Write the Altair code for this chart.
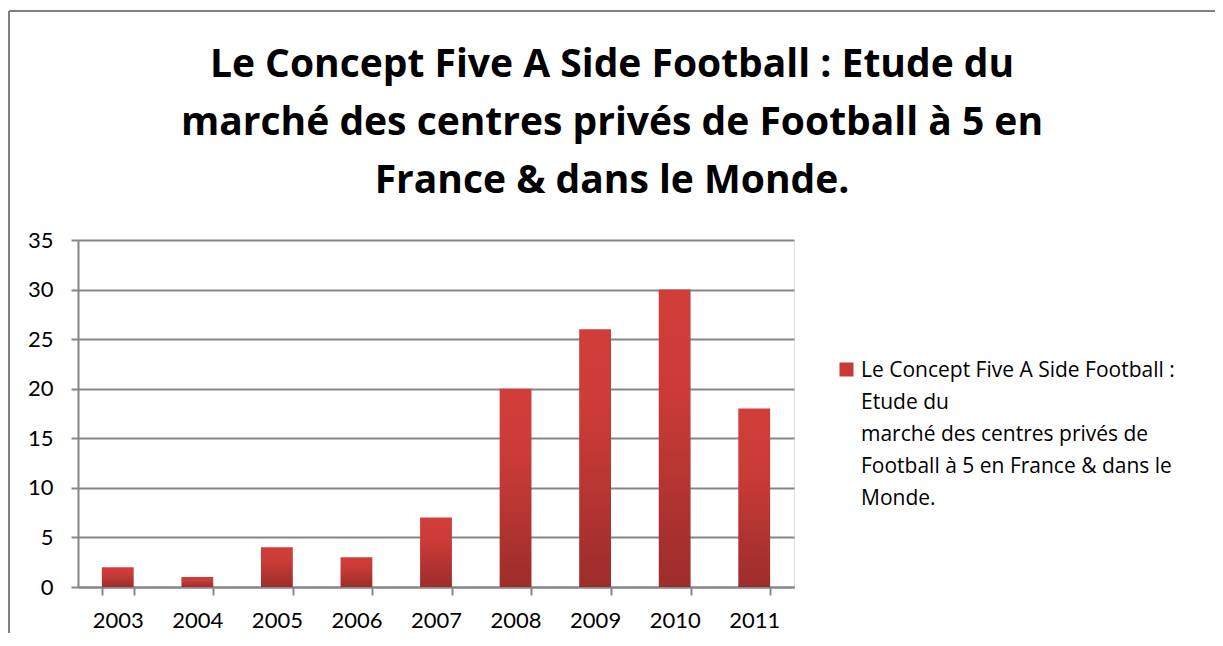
import altair as alt
import pandas as pd

years = ["2003", "2004", "2005", "2006", "2007", "2008", "2009", "2010", "2011"]
values = [2, 1, 4, 3, 7, 20, 26, 30, 18]
y_ticks = [0, 5, 10, 15, 20, 25, 30, 35]
series_name = "Le Concept Five A Side Football : Etude du marché des centres privés de Football à 5 en France & dans le Monde."
legend_lines = ["Le Concept Five A Side Football :", "Etude du", "marché des centres privés de",
                "Football à 5 en France & dans le", "Monde."]
title_lines = ["Le Concept Five A Side Football : Etude du",
               "marché des centres privés de Football à 5 en",
               "France & dans le Monde."]

df = pd.DataFrame({"year": years, "value": values, "series": [series_name] * len(years)})

FONT = "Lato"
TFONT = "Open Sans"
GRID = "#868686"

gradient = {
    "gradient": "linear", "x1": 0, "y1": 0, "x2": 0, "y2": 1,
    "stops": [
        {"offset": 0, "color": "#D13E3A"},
        {"offset": 0.35, "color": "#CA3B37"},
        {"offset": 1, "color": "#9C2D2B"},
    ],
}

x_enc = alt.X("year:N", sort=years, title=None,
              scale=alt.Scale(paddingInner=0.6, paddingOuter=0.3),
              axis=alt.Axis(labelAngle=0, tickBand="extent", tickSize=8, tickWidth=2,
                            tickColor=GRID, domainColor=GRID, domainWidth=2,
                            labelPadding=15, labelFont=FONT, labelFontSize=22,
                            labelColor="#000000", grid=False))
y_enc = alt.Y("value:Q", title=None,
              scale=alt.Scale(domain=[0, 35], nice=False),
              axis=alt.Axis(values=y_ticks, grid=True, gridColor=GRID, gridWidth=2,
                            tickSize=7, tickWidth=2, tickColor=GRID,
                            domainColor=GRID, domainWidth=2, labelPadding=18,
                            labelFont=FONT, labelFontSize=22, labelColor="#000000"))

bars = alt.Chart(df).mark_bar(color=gradient).encode(x=x_enc, y=y_enc)

legend_expr = "[" + ", ".join("'" + s + "'" for s in legend_lines) + "]"
legend_layer = alt.Chart(df).mark_square(opacity=0).encode(
    x=alt.X("year:N", sort=years),
    y=alt.Y("value:Q"),
    color=alt.Color("series:N", title=None,
                    scale=alt.Scale(range=["#C43B38"]),
                    legend=alt.Legend(orient="none", legendX=758, legendY=126,
                                      symbolType="M-1,-2H1V0H-1Z", symbolSize=196,
                                      symbolOpacity=1, symbolFillColor="#C43B38",
                                      symbolStrokeWidth=0, labelExpr=legend_expr,
                                      labelBaseline="alphabetic", labelLimit=0,
                                      labelOffset=4, labelFont=TFONT, labelFontSize=21,
                                      labelColor="#000000", padding=0)),
)

frame_data = alt.Data(values=[{"k": 1}])
frame_left = alt.Chart(frame_data).mark_rule(color="#808080", strokeWidth=2).encode(
    x=alt.value(-69), y=alt.value(-229), y2=alt.value(420))
frame_top = alt.Chart(frame_data).mark_rule(color="#808080", strokeWidth=2).encode(
    x=alt.value(-69), x2=alt.value(1200), y=alt.value(-229))

chart = alt.layer(frame_left, frame_top, bars, legend_layer).properties(
    width=716, height=347,
    autosize=alt.AutoSizeParams(type="none"),
    padding={"left": 70, "top": 232, "right": 421, "bottom": 46},
    title=alt.TitleParams(title_lines, anchor="middle", frame="group", dx=176,
                          font=TFONT, fontSize=39,
                          fontWeight="bold", color="#000000", lineHeight=58,
                          offset=-191),
).configure_view(stroke="transparent", strokeWidth=0).configure(
    background="white",
    style={"guide-label": {"lineHeight": 32}},
)

chart.save("out.html", embed_options={"renderer": "svg", "actions": False})
